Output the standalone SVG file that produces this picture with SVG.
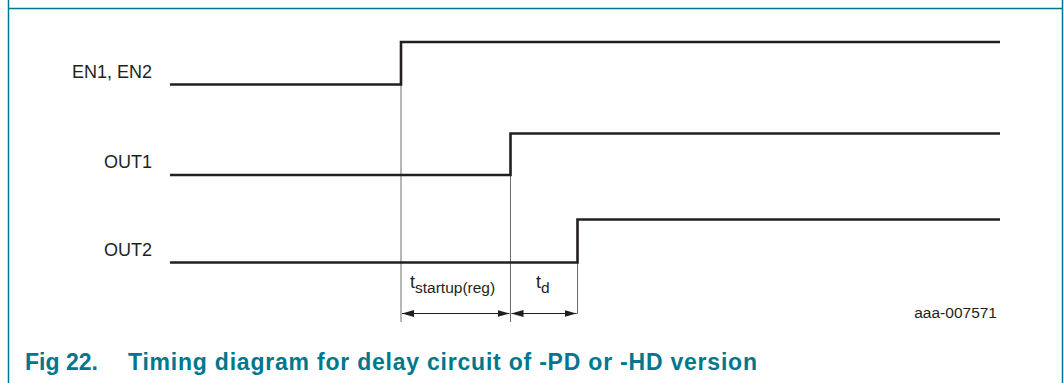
<svg xmlns="http://www.w3.org/2000/svg" width="1064" height="383" viewBox="0 0 1064 383">
<style>
.frame{fill:none;stroke:#00778c;stroke-width:1.5}
.wave{fill:none;stroke:#231f20;stroke-width:2.6;stroke-linejoin:miter}
.guide{fill:none;stroke:#6d6e70;stroke-width:1}
.dim{fill:none;stroke:#231f20;stroke-width:1}
.lbl{font-family:"Liberation Sans",Arial,sans-serif;font-size:18px;fill:#231f20}
.sub{font-size:15.5px}
.title{font-family:"Liberation Sans",Arial,sans-serif;font-size:23px;font-weight:bold;fill:#00778c}
</style>
<defs>
<marker id="ah" viewBox="0 0 12 7" refX="12" refY="3.5" markerWidth="12" markerHeight="7" markerUnits="userSpaceOnUse" orient="auto-start-reverse">
<path d="M0,0 L12,3.5 L0,7 Z" fill="#231f20"/>
</marker>
</defs>
<g id="frame">
<path class="frame" d="M8.5,0 V383 M1062.5,0 V383 M8.5,8.5 H1062.5"/>
</g>
<g id="connectors">
<line class="guide" x1="401" y1="42" x2="401" y2="322"/>
<line class="guide" x1="510.5" y1="133" x2="510.5" y2="322"/>
<line class="guide" x1="577.5" y1="219" x2="577.5" y2="314"/>
<line class="dim" x1="402" y1="313.5" x2="509.5" y2="313.5" marker-start="url(#ah)" marker-end="url(#ah)"/>
<line class="dim" x1="511.5" y1="313.5" x2="576.5" y2="313.5" marker-start="url(#ah)" marker-end="url(#ah)"/>
</g>
<g id="en">
<text class="lbl" x="152" y="78" text-anchor="end">EN1, EN2</text>
<path class="wave" d="M170,84.5 H401 V42 H1000"/>
</g>
<g id="out1">
<text class="lbl" x="152" y="168" text-anchor="end">OUT1</text>
<path class="wave" d="M170,175 H510.5 V133.5 H1000"/>
</g>
<g id="out2">
<text class="lbl" x="152" y="256" text-anchor="end">OUT2</text>
<path class="wave" d="M170,262.5 H577.5 V219.5 H1000"/>
</g>
<g id="tstartup">
<text class="lbl" x="410" y="288">t<tspan class="sub" dy="5">startup(reg)</tspan></text>
</g>
<g id="td">
<text class="lbl" x="536" y="288">t<tspan class="sub" dy="5">d</tspan></text>
</g>
<g id="code">
<text class="lbl sub" x="997" y="318" text-anchor="end">aaa-007571</text>
</g>
<g id="caption">
<text class="title" y="370"><tspan x="25">Fig 22.</tspan><tspan x="128" textLength="629">Timing diagram for delay circuit of -PD or -HD version</tspan></text>
</g>
</svg>
